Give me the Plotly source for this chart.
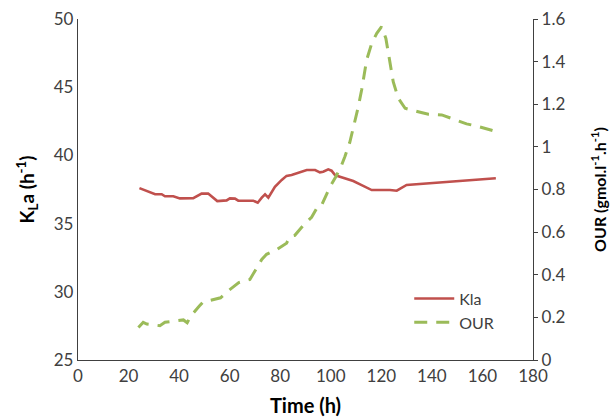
import plotly.graph_objects as go

# Kla series (time h, Kla 1/h)
kla_t = [24.3, 26.5, 28.5, 30.5, 33.1, 34.4, 37.7, 40.3, 45.6, 46.9, 48.9, 51.5, 55.1, 58.8,
         60.1, 62.1, 63.4, 69.3, 71.1, 72.7, 74.0, 75.3, 77.9, 80.6, 82.5, 84.5, 87.1, 90.5,
         93.8, 95.7, 97.0, 99.0, 100.3, 101.7, 103.6, 106.3, 108.9, 111.6, 114.2, 116.2,
         123.4, 126.1, 130.0, 165.3]
kla_v = [37.6, 37.46, 37.3, 37.15, 37.15, 37.0, 37.0, 36.85, 36.87, 37.0, 37.2, 37.2, 36.65, 36.7,
         36.85, 36.83, 36.68, 36.68, 36.53, 36.9, 37.15, 36.9, 37.7, 38.2, 38.5, 38.56, 38.73, 38.93,
         38.93, 38.76, 38.8, 38.98, 38.88, 38.56, 38.44, 38.27, 38.12, 37.88, 37.66, 37.46,
         37.46, 37.41, 37.83, 38.32]

# OUR series (time h, OUR gmol/l/h)
our_t = [23.9, 25.8, 27.2, 32.4, 34.4, 36.4, 41.7, 43.2, 44.6, 48.0, 49.6, 51.5, 56.4, 59.5,
         63.6, 68.0, 70.7, 72.7, 74.6, 78.3, 82.5, 83.9, 85.8, 89.1, 92.4, 95.1, 96.4, 97.7,
         99.7, 102.0, 104.3, 105.6, 107.5, 110.9, 112.2, 114.2, 116.2, 118.2, 120.1, 121.8,
         122.8, 123.4, 124.7, 126.7, 129.4, 134.6, 138.6, 143.9, 148.5, 153.7, 157.7, 165.6]
our_v = [0.152, 0.177, 0.169, 0.161, 0.177, 0.18, 0.188, 0.175, 0.206, 0.253, 0.274, 0.277, 0.292, 0.325,
         0.363, 0.378, 0.433, 0.472, 0.496, 0.516, 0.548, 0.58, 0.585, 0.631, 0.67, 0.725, 0.727, 0.758,
         0.813, 0.86, 0.915, 0.955, 1.02, 1.189, 1.267, 1.408, 1.486, 1.533, 1.564, 1.509,
         1.439, 1.392, 1.306, 1.228, 1.181, 1.165, 1.153, 1.15, 1.13, 1.108, 1.098, 1.071]

x_ticks = [0, 20, 40, 60, 80, 100, 120, 140, 160, 180]
left_ticks = [25, 30, 35, 40, 45, 50]
right_ticks = [0, 0.2, 0.4, 0.6, 0.8, 1.0, 1.2, 1.4, 1.6]
right_labels = ["0", "0.2", "0.4", "0.6", "0.8", "1", "1.2", "1.4", "1.6"]

FONT = "Lato"
TICKFONT = dict(family=FONT, size=17, color="#404040")

fig = go.Figure()
fig.add_trace(go.Scatter(x=kla_t, y=kla_v, name="Kla", mode="lines",
                         line=dict(color="#C0504D", width=2.6)))
fig.add_trace(go.Scatter(x=our_t, y=our_v, name="OUR", mode="lines", yaxis="y2",
                         line=dict(color="#9BBB59", width=3, dash="13px,9px")))

axis_common = dict(showgrid=False, zeroline=False, showline=True, linecolor="#404040",
                   linewidth=1.3, tickfont=TICKFONT, automargin=False)

fig.update_layout(
    width=616, height=418,
    margin=dict(l=78, r=83, t=19, b=58),
    paper_bgcolor="white", plot_bgcolor="white",
    font=dict(family=FONT, color="#000000"),
    xaxis=dict(range=[0, 180], tickvals=x_ticks, ticks="", **axis_common,
               title=dict(text="<b>Time (h)</b>", font=dict(family=FONT, size=20, color="#000"),
                          standoff=14)),
    yaxis=dict(range=[25, 50], tickvals=left_ticks, ticks="", **axis_common,
               title=dict(text="<b>K<sub>L</sub>a (h<sup>-1</sup>)</b>",
                          font=dict(family=FONT, size=19, color="#000"), standoff=14)),
    yaxis2=dict(range=[0, 1.6], tickvals=right_ticks, ticktext=right_labels, overlaying="y",
                side="right", ticks="outside", ticklen=4, tickcolor="#404040", **axis_common,
                title=dict(text="<b>OUR (gmol.l<sup>-1</sup>.h<sup>-1</sup>)</b>",
                           font=dict(family=FONT, size=16, color="#000"), standoff=30)),
    legend=dict(x=0.728, y=0.23, xanchor="left", yanchor="top", bgcolor="rgba(0,0,0,0)",
                font=dict(family=FONT, size=16, color="#404040"), itemwidth=40,
                tracegroupgap=10),
    showlegend=True,
)

fig.write_html("out.html", config={"displayModeBar": False},
               post_script="document.body.style.margin='0';document.body.style.padding='0';")
